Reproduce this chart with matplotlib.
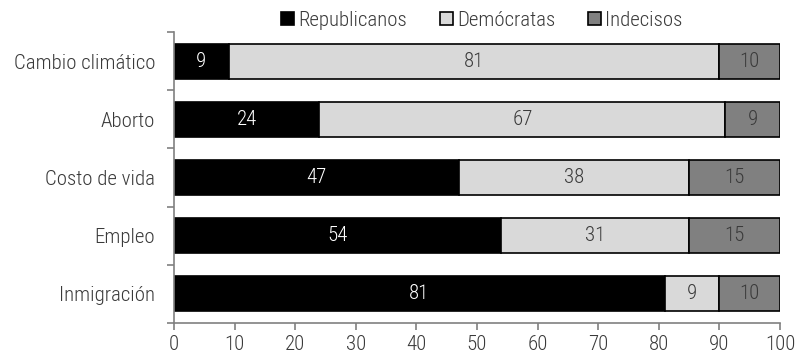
import matplotlib
matplotlib.use("Agg")
import matplotlib.pyplot as plt
import numpy as np

categories = ["Cambio climático", "Aborto", "Costo de vida", "Empleo", "Inmigración"]
republicanos = [9, 24, 47, 54, 81]
democratas = [81, 67, 38, 31, 9]
indecisos = [10, 9, 15, 15, 10]
series_names = ["Republicanos", "Demócratas", "Indecisos"]
colors = ["#000000", "#d9d9d9", "#808080"]
text_colors = ["white", "#3a3a3a", "#3a3a3a"]
xticks = [0, 10, 20, 30, 40, 50, 60, 70, 80, 90, 100]

plt.rcParams['font.family'] = ['Roboto Condensed', 'DejaVu Sans']
plt.rcParams['font.weight'] = 300
FS = 15

fig = plt.figure(figsize=(7.96, 3.56), dpi=100)
ax = fig.add_axes([174/796, 1 - 323/356, (780-174)/796, (323-32)/356])

y = np.arange(len(categories))
left = np.zeros(len(categories))
for vals, name, c, tc in zip([republicanos, democratas, indecisos], series_names, colors, text_colors):
    ax.barh(y, vals, left=left, height=0.6, color=c, edgecolor="black", linewidth=1.2, label=name)
    for yi, l, v in zip(y, left, vals):
        ax.text(l + v / 2, yi, str(v), ha="center", va="center", color=tc, fontsize=FS, fontweight=300)
    left = left + np.array(vals)

ax.set_xlim(0, 100)
ax.set_ylim(4.5, -0.5)
ax.set_xticks(xticks)
ax.set_xticklabels([str(t) for t in xticks])
ax.set_yticks(y)
ax.set_yticklabels(categories)
ax.set_yticks(np.arange(-0.5, 5.0, 1.0), minor=True)
ax.tick_params(axis="y", which="major", length=0, pad=13.5, labelsize=FS, labelcolor="#3a3a3a")
ax.tick_params(axis="y", which="minor", length=5, color="#808080", width=1.2)
ax.tick_params(axis="x", which="major", length=5, color="#808080", width=1.2, labelsize=FS, labelcolor="#3a3a3a", pad=3.5)
for s in ["top", "right"]:
    ax.spines[s].set_visible(False)
for s in ["left", "bottom"]:
    ax.spines[s].set_color("#808080")
    ax.spines[s].set_linewidth(1.2)

leg = fig.legend(loc="center", bbox_to_anchor=(482/796, 1 - 20/356), ncol=3, frameon=False,
                 fontsize=FS, handlelength=0.6, handleheight=0.6, handletextpad=0.2, columnspacing=1.6)
for t in leg.get_texts():
    t.set_color("#3a3a3a")

fig.savefig("out.png", dpi=100)
